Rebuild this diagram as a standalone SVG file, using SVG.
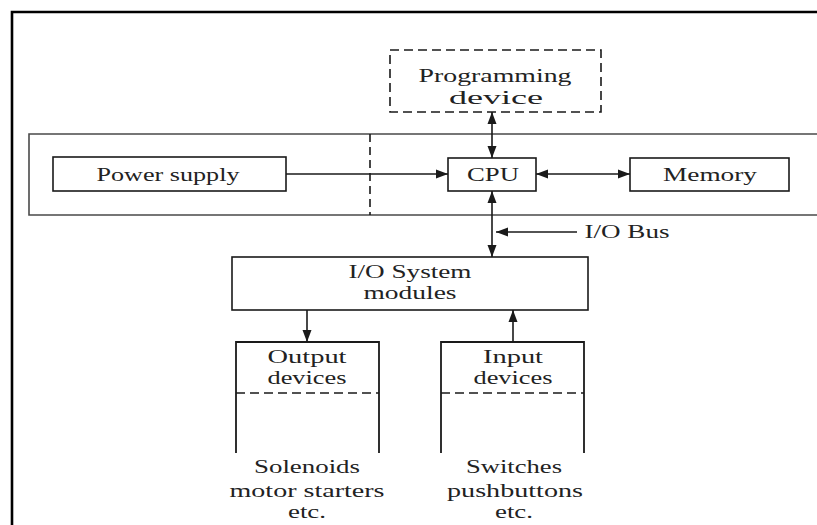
<svg xmlns="http://www.w3.org/2000/svg" width="817" height="525" viewBox="0 0 817 525">
<style>
  text { font-family: "Liberation Serif", "Times New Roman", serif; font-size: 19px; fill: #222; text-anchor: middle; }
  .box { fill: #fff; stroke: #1a1a1a; stroke-width: 1.6; }
  .band { fill: none; stroke: #4a4a4a; stroke-width: 1.6; }
  .dash { fill: none; stroke: #1a1a1a; stroke-width: 1.6; stroke-dasharray: 9 5; }
  .side { fill: none; stroke: #1a1a1a; stroke-width: 1.8; }
  .conn { fill: none; stroke: #1a1a1a; stroke-width: 1.6; }
</style>
<defs>
  <marker id="ah" markerUnits="userSpaceOnUse" markerWidth="12" markerHeight="10" refX="12" refY="5" orient="auto-start-reverse">
    <path d="M0,0.5 L12,5 L0,9.5 z" fill="#1a1a1a"/>
  </marker>
</defs>
<rect width="817" height="525" fill="#fff"/>
<path d="M12,525 L12,12 L817,12" fill="none" stroke="#000" stroke-width="2.6"/>
<g id="band">
  <path class="band" d="M817,134 L29,134 L29,215 L817,215"/>
  <line x1="370" y1="134" x2="370" y2="215" stroke="#1a1a1a" stroke-width="1.6" stroke-dasharray="8 5"/>
</g>
<g id="programming">
  <rect class="dash" x="390" y="50" width="211" height="62"/>
  <text x="495" y="82" textLength="153" lengthAdjust="spacingAndGlyphs">Programming</text>
  <text x="496" y="104" textLength="94" lengthAdjust="spacingAndGlyphs">device</text>
</g>
<g id="power">
  <rect class="box" x="53" y="157" width="233" height="34"/>
  <text x="168" y="181" textLength="143" lengthAdjust="spacingAndGlyphs">Power supply</text>
</g>
<g id="cpu">
  <rect class="box" x="448" y="158" width="88" height="33"/>
  <text x="493" y="181" textLength="52" lengthAdjust="spacingAndGlyphs">CPU</text>
</g>
<g id="memory">
  <rect class="box" x="630" y="158" width="159" height="33"/>
  <text x="710" y="181" textLength="94" lengthAdjust="spacingAndGlyphs">Memory</text>
</g>
<g id="iobus">
  <text x="627" y="238" textLength="85" lengthAdjust="spacingAndGlyphs">I/O Bus</text>
</g>
<g id="iosystem">
  <rect class="box" x="232" y="257" width="356" height="53"/>
  <text x="410" y="278" textLength="123" lengthAdjust="spacingAndGlyphs">I/O System</text>
  <text x="410" y="299" textLength="93" lengthAdjust="spacingAndGlyphs">modules</text>
</g>
<g id="output">
  <path class="side" d="M236,453 L236,342 L379,342 L379,453"/>
  <line class="dash" x1="236" y1="393" x2="379" y2="393" stroke-dasharray="8 5"/>
  <text x="307" y="363" textLength="79" lengthAdjust="spacingAndGlyphs">Output</text>
  <text x="307" y="384" textLength="79" lengthAdjust="spacingAndGlyphs">devices</text>
  <text x="307" y="473" textLength="106" lengthAdjust="spacingAndGlyphs">Solenoids</text>
  <text x="307" y="497" textLength="155" lengthAdjust="spacingAndGlyphs">motor starters</text>
  <text x="307" y="518" textLength="38" lengthAdjust="spacingAndGlyphs">etc.</text>
</g>
<g id="input">
  <path class="side" d="M441,453 L441,342 L584,342 L584,453"/>
  <line class="dash" x1="441" y1="393" x2="584" y2="393" stroke-dasharray="8 5"/>
  <text x="513" y="363" textLength="60" lengthAdjust="spacingAndGlyphs">Input</text>
  <text x="513" y="384" textLength="79" lengthAdjust="spacingAndGlyphs">devices</text>
  <text x="514" y="473" textLength="96" lengthAdjust="spacingAndGlyphs">Switches</text>
  <text x="515" y="497" textLength="136" lengthAdjust="spacingAndGlyphs">pushbuttons</text>
  <text x="514" y="518" textLength="38" lengthAdjust="spacingAndGlyphs">etc.</text>
</g>
<g id="connectors">
  <line class="conn" x1="492" y1="112" x2="492" y2="158" marker-start="url(#ah)" marker-end="url(#ah)"/>
  <line class="conn" x1="286" y1="174" x2="448" y2="174" marker-end="url(#ah)"/>
  <line class="conn" x1="536" y1="174" x2="630" y2="174" marker-start="url(#ah)" marker-end="url(#ah)"/>
  <line class="conn" x1="492" y1="191" x2="492" y2="257" marker-start="url(#ah)" marker-end="url(#ah)"/>
  <line class="conn" x1="577" y1="232" x2="496" y2="232" marker-end="url(#ah)"/>
  <line class="conn" x1="307" y1="310" x2="307" y2="342" marker-end="url(#ah)"/>
  <line class="conn" x1="513" y1="342" x2="513" y2="310" marker-end="url(#ah)"/>
</g>
</svg>
